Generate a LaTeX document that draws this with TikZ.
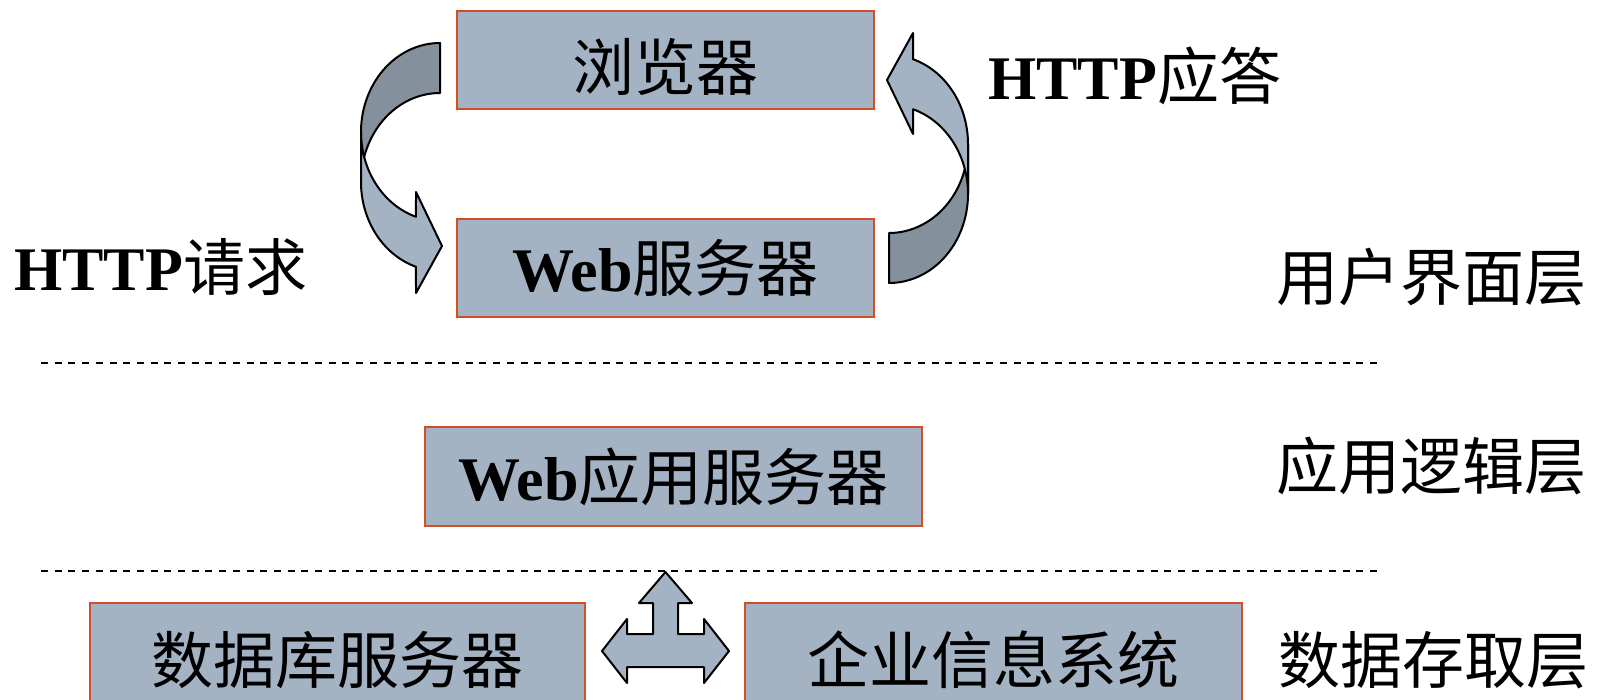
\documentclass[tikz,border=0pt]{standalone}
\usepackage{fontspec}
\setmainfont{Liberation Serif}
\newfontfamily\cjk{Noto Sans CJK SC}
\definecolor{boxfill}{RGB}{164,179,195}
\definecolor{boxline}{RGB}{212,78,38}
\definecolor{darkarr}{RGB}{132,145,156}
\newcommand\bigfont{\fontsize{62}{70}\selectfont}
\begin{document}
\begin{tikzpicture}[x=1pt,y=-1pt,
  box/.style={draw=boxline, line width=2pt, fill=boxfill, inner sep=0pt, font=\bigfont},
  lbl/.style={inner sep=0pt, anchor=west, font=\bigfont},
  shapeline/.style={draw=black, line width=2pt, line join=round},
  sep/.style={line width=1.5pt, dash pattern=on 7pt off 6.7pt}]
\useasboundingbox (0,0) rectangle (1598,699);
\fill[white] (0,0) rectangle (1598,699);

% boxes
\node[box, minimum width=417pt, minimum height=98pt, text height=60pt, text depth=0pt] (browser) at (665.5,60) {\cjk 浏览器};
\node[box, minimum width=417pt, minimum height=98pt] (websrv) at (665.5,268) {{\bfseries Web}{\cjk 服务器}};
\node[box, minimum width=497pt, minimum height=99pt] (appsrv) at (673.5,476.5) {{\bfseries Web}{\cjk 应用服务器}};
\node[box, minimum width=495pt, minimum height=114pt] (dbsrv) at (337.5,660) {\cjk 数据库服务器};
\node[box, minimum width=497pt, minimum height=114pt] (eis) at (993.5,660) {\cjk 企业信息系统};

% labels
\node[lbl] (req) at (14,267) {{\bfseries HTTP}{\cjk 请求}};
\node[lbl] (resp) at (988,76) {{\bfseries HTTP}{\cjk 应答}};
\node[lbl] (ui) at (1276,277) {\cjk 用户界面层};
\node[lbl] (logic) at (1276,466) {\cjk 应用逻辑层};
\node[lbl] (data) at (1278,660) {\cjk 数据存取层};

% separators
\coordinate (s1a) at (41,363); \coordinate (s1b) at (1378,363);
\coordinate (s2a) at (41,571); \coordinate (s2b) at (1378,571);
\draw[sep] (s1a) -- (s1b);
\draw[sep] (s2a) -- (s2b);

% curved arrows
\newcommand\curvedarrow{%
  \filldraw[shapeline, fill=darkarr]
    plot[domain=90:180, samples=40, variable=\t] ({440+79*cos(\t)},{132-89*sin(\t)})
    -- (361,182)
    -- plot[domain=180:90, samples=40, variable=\t] ({440+79*cos(\t)},{182-89*sin(\t)})
    -- cycle;
  \filldraw[shapeline, fill=boxfill]
    plot[domain=180:252.3, samples=40, variable=\t] ({440+79*cos(\t)},{132-89*sin(\t)})
    -- (416,192) -- (442,246) -- (416,293)
    -- plot[domain=252.3:180, samples=40, variable=\t] ({440+79*cos(\t)},{182-89*sin(\t)})
    -- cycle;}
\curvedarrow
\begin{scope}[rotate around={180:(664.5,163)}]
\curvedarrow
\end{scope}

% three-way arrow
\filldraw[shapeline, fill=boxfill]
  (665.5,572) -- (692,603) -- (678,603) -- (678,634) -- (704,634) -- (704,619)
  -- (729,651) -- (704,683) -- (704,667) -- (627,667) -- (627,683) -- (602,651)
  -- (627,619) -- (627,634) -- (653,634) -- (653,603) -- (639,603) -- cycle;
\end{tikzpicture}
\end{document}
